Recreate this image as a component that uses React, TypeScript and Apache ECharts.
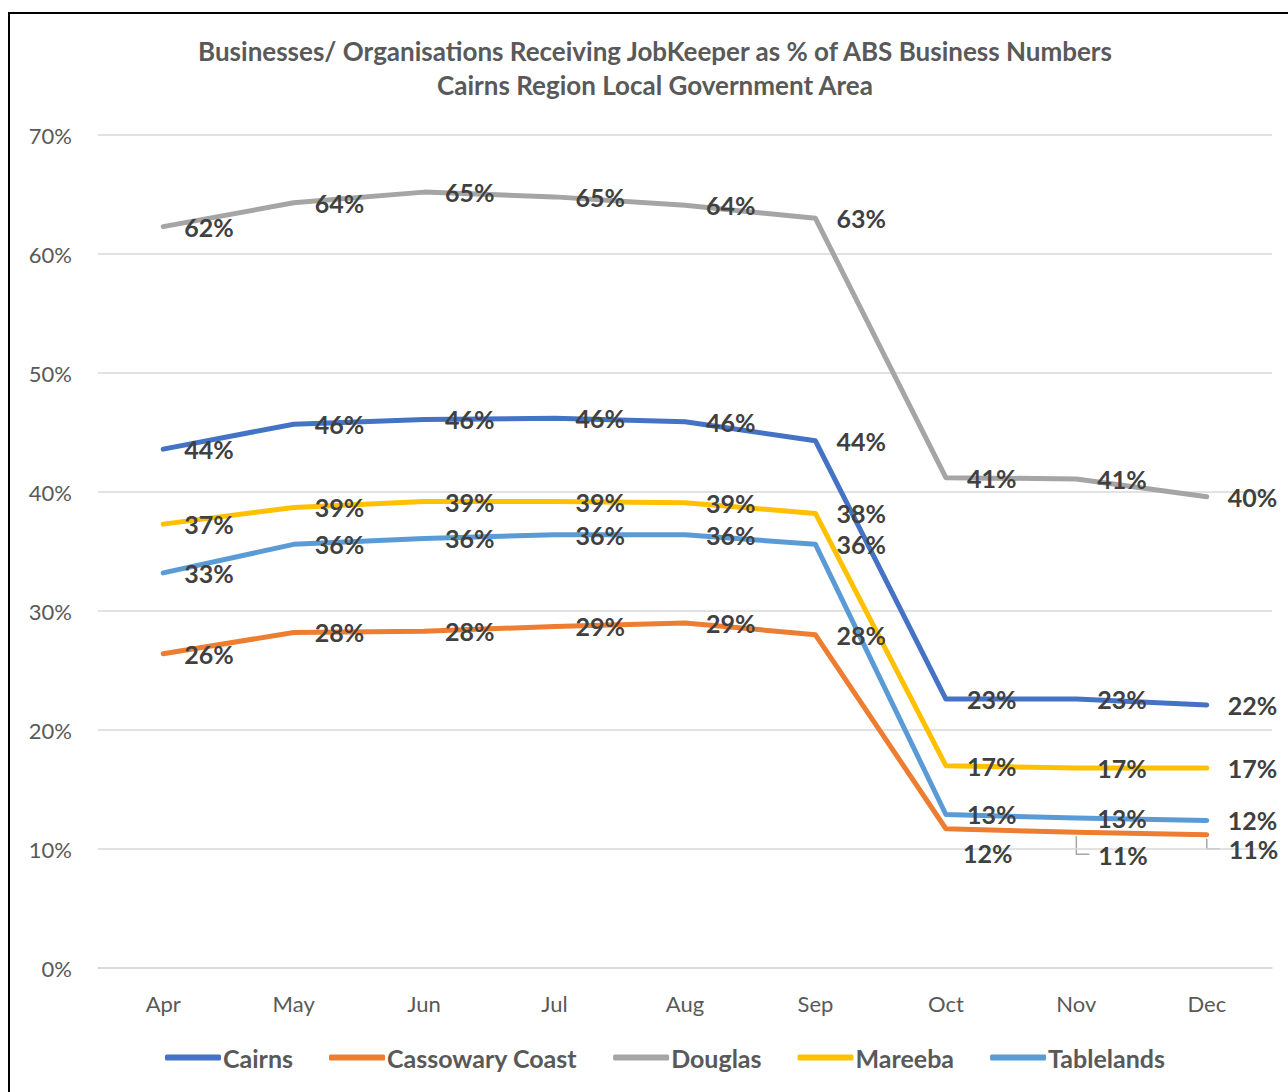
import React, { useEffect, useRef } from "react";
import * as echarts from "echarts";

const months = ["Apr", "May", "Jun", "Jul", "Aug", "Sep", "Oct", "Nov", "Dec"];
const cairns = [43.6, 45.7, 46.1, 46.2, 45.9, 44.3, 22.6, 22.6, 22.1];
const cassowary = [26.4, 28.2, 28.3, 28.7, 29.0, 28.0, 11.7, 11.4, 11.2];
const douglas = [62.3, 64.3, 65.2, 64.8, 64.1, 63.0, 41.2, 41.1, 39.6];
const mareeba = [37.3, 38.7, 39.2, 39.2, 39.1, 38.2, 17.0, 16.8, 16.8];
const tablelands = [33.2, 35.6, 36.1, 36.4, 36.4, 35.6, 12.9, 12.6, 12.4];
const yTicks = [0, 10, 20, 30, 40, 50, 60, 70];

const FONT = "Lato, 'Open Sans', sans-serif";

export default function App() {
  const ref = useRef<HTMLDivElement>(null);
  useEffect(() => {
    document.body.style.margin = "0";
    const chart = echarts.init(ref.current!, null, { renderer: "svg" });
    const labelBase = {
      show: true,
      position: "right",
      distance: 20,
      color: "#404040",
      fontSize: 25,
      fontWeight: "bold",
      fontFamily: FONT,
      formatter: (p: any) => Math.round(p.value) + "%",
    };
    const mk = (name: string, data: number[], color: string, special?: (i: number, v: number) => any) => ({
      name,
      type: "line",
      data: data.map((v, i) => (special ? special(i, v) : v)),
      symbol: "circle",
      symbolSize: 2,
      lineStyle: { color, width: 5, cap: "round", join: "round" },
      itemStyle: { color },
      label: labelBase,
      emphasis: { disabled: true },
    });
    const baseGraphics: any[] = [
      {
        type: "rect",
        shape: { x: 9, y: 13, width: 1300, height: 1110 },
        style: { fill: "none", stroke: "#000", lineWidth: 2 },
        silent: true,
      },
      {
        type: "text",
        x: 655,
        y: 51,
        style: {
          text: "Businesses/ Organisations Receiving JobKeeper as % of ABS Business Numbers",
          fill: "#595959",
          font: `bold 26px ${FONT}`,
          textAlign: "center",
          textVerticalAlign: "middle",
        },
      },
      {
        type: "text",
        x: 655,
        y: 85,
        style: {
          text: "Cairns Region Local Government Area",
          fill: "#595959",
          font: `bold 26px ${FONT}`,
          textAlign: "center",
          textVerticalAlign: "middle",
        },
      },
    ];
    chart.setOption({
      animation: false,
      graphic: baseGraphics,
      grid: { left: 98, right: 16, top: 135, bottom: 124, containLabel: false },
      legend: {
        bottom: 17,
        left: 160,
        itemWidth: 56,
        itemHeight: 6,
        itemGap: 36,
        icon: "roundRect",
        textStyle: { color: "#595959", fontSize: 25, fontWeight: "bold", fontFamily: FONT, padding: [0, 0, 0, -3] },
        data: ["Cairns", "Cassowary Coast", "Douglas", "Mareeba", "Tablelands"],
      },
      xAxis: {
        type: "category",
        data: months,
        boundaryGap: true,
        axisLine: { show: true, lineStyle: { color: "#D9D9D9", width: 1.5 } },
        axisTick: { show: false },
        axisLabel: { color: "#595959", fontSize: 22, fontFamily: FONT, margin: 24 },
      },
      yAxis: {
        type: "value",
        min: 0,
        max: 70,
        interval: 10,
        axisLine: { show: false },
        axisTick: { show: false },
        splitLine: { lineStyle: { color: "#D9D9D9", width: 1.5 } },
        axisLabel: {
          color: "#595959",
          fontSize: 22,
          fontFamily: FONT,
          margin: 26,
          formatter: (v: number) => (yTicks.includes(v) ? v + "%" : ""),
        },
      },
      series: [
        mk("Cairns", cairns, "#4472C4"),
        mk("Cassowary Coast", cassowary, "#ED7D31", (i, v) => {
          if (i === 6) return { value: v, label: { offset: [-4, 24] } };
          if (i === 7) return { value: v, label: { offset: [1, 23] } };
          if (i === 8) return { value: v, label: { offset: [1, 14] } };
          return v;
        }),
        mk("Douglas", douglas, "#A5A5A5"),
        mk("Mareeba", mareeba, "#FFC000"),
        mk("Tablelands", tablelands, "#5B9BD5"),
      ],
    });
    // leader lines for the two displaced Cassowary Coast labels
    const leaders: any[] = [];
    [[7, 22], [8, 14]].forEach(([i, dy]) => {
      const p = chart.convertToPixel({ gridIndex: 0 }, [i, cassowary[i]]) as number[];
      leaders.push({
        type: "polyline",
        shape: { points: [[p[0], p[1] + 4], [p[0], p[1] + dy], [p[0] + 13, p[1] + dy]] },
        style: { stroke: "#A6A6A6", lineWidth: 1.5, fill: "none" },
        silent: true,
      });
    });
    chart.setOption({ graphic: [...baseGraphics, ...leaders] });
    return () => chart.dispose();
  }, []);
  return <div ref={ref} style={{ width: 1288, height: 1092 }} />;
}
